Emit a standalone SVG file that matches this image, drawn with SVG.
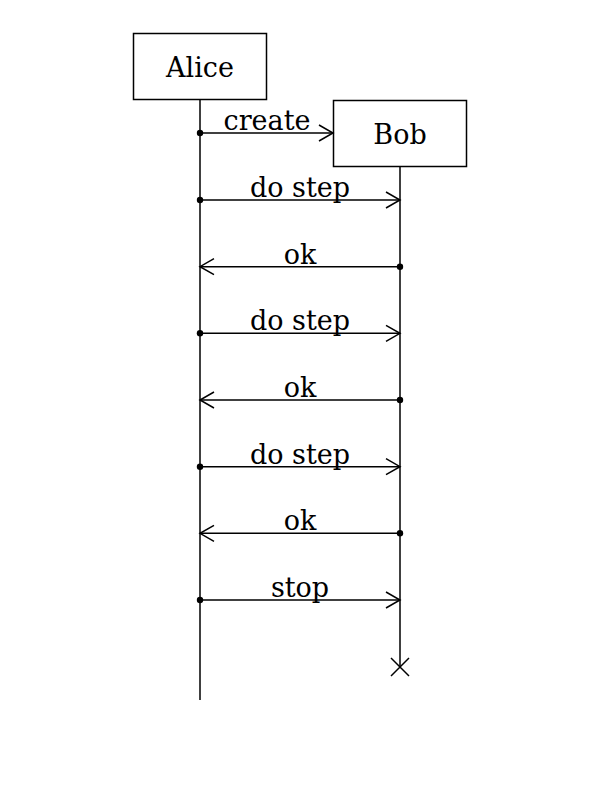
<svg xmlns="http://www.w3.org/2000/svg" width="600" height="800" viewBox="0 0 600 800">
<style>
.box{fill:#fff;stroke:#000;stroke-width:1.5}
.ll{stroke:#000;stroke-width:1.5;fill:none}
.msg{stroke:#000;stroke-width:1.5;fill:none}
.head{stroke:#000;stroke-width:1.5;fill:none}
.lbl{font-family:"DejaVu Serif",serif;font-size:27px;fill:#000;text-anchor:middle}
.t{font-family:"DejaVu Serif",serif;font-size:27px;fill:#000;text-anchor:middle;dominant-baseline:central}
</style>
<rect width="600" height="800" fill="#fff"/>
<g id="lifelines">
<line class="ll" x1="200" y1="100" x2="200" y2="700"/>
<line class="ll" x1="400" y1="167" x2="400" y2="667"/>
</g>
<g id="alice"><rect class="box" x="133.5" y="33.5" width="133" height="66"/><text class="t" x="200" y="67">Alice</text></g>
<g id="bob"><rect class="box" x="333.5" y="100.5" width="133" height="66"/><text class="t" x="400" y="134">Bob</text></g>
<g id="connectors">
<g><circle cx="200" cy="133" r="3.2"/><line class="msg" x1="200" y1="133" x2="333" y2="133"/><path class="head" d="M319,125 L333,133 L319,141"/><text class="lbl" x="267" y="130">create</text></g>
<g><circle cx="200" cy="200" r="3.2"/><line class="msg" x1="200" y1="200" x2="400" y2="200"/><path class="head" d="M386,192 L400,200 L386,208"/><text class="lbl" x="300" y="197">do step</text></g>
<g><circle cx="400" cy="266.7" r="3.2"/><line class="msg" x1="400" y1="266.7" x2="200" y2="266.7"/><path class="head" d="M214,258.7 L200,266.7 L214,274.7"/><text class="lbl" x="300" y="263.7">ok</text></g>
<g><circle cx="200" cy="333.3" r="3.2"/><line class="msg" x1="200" y1="333.3" x2="400" y2="333.3"/><path class="head" d="M386,325.3 L400,333.3 L386,341.3"/><text class="lbl" x="300" y="330.3">do step</text></g>
<g><circle cx="400" cy="400" r="3.2"/><line class="msg" x1="400" y1="400" x2="200" y2="400"/><path class="head" d="M214,392 L200,400 L214,408"/><text class="lbl" x="300" y="397">ok</text></g>
<g><circle cx="200" cy="466.7" r="3.2"/><line class="msg" x1="200" y1="466.7" x2="400" y2="466.7"/><path class="head" d="M386,458.7 L400,466.7 L386,474.7"/><text class="lbl" x="300" y="463.7">do step</text></g>
<g><circle cx="400" cy="533.3" r="3.2"/><line class="msg" x1="400" y1="533.3" x2="200" y2="533.3"/><path class="head" d="M214,525.3 L200,533.3 L214,541.3"/><text class="lbl" x="300" y="530.3">ok</text></g>
<g><circle cx="200" cy="600" r="3.2"/><line class="msg" x1="200" y1="600" x2="400" y2="600"/><path class="head" d="M386,592 L400,600 L386,608"/><text class="lbl" x="300" y="597">stop</text></g>
</g>
<g id="destroy"><path class="msg" d="M391,658 L409,676 M409,658 L391,676"/></g>
</svg>
